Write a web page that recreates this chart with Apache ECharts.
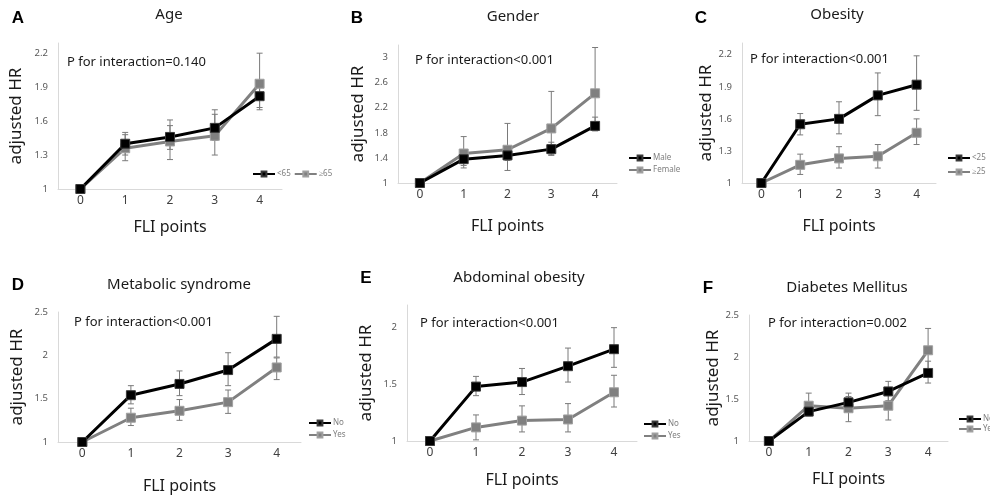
<!DOCTYPE html>
<html>
<head>
    <meta charset="utf-8">
    <title>FLI points – adjusted HR</title>
    <script src="https://cdn.jsdelivr.net/npm/echarts@6/dist/echarts.min.js"></script>
    <style>
        html, body { margin: 0; padding: 0; background: #ffffff; }
        #main { width: 990px; height: 498px; }
    </style>
</head>
<body>
<div id="main"></div>
<script>
    // x categories
    var fliPoints = ['0', '1', '2', '3', '4'];

    // A Age
    var ageLt65 = [1, 1.40, 1.46, 1.54, 1.82];
    var ageLt65Lo = [null, 1.30, 1.35, 1.43, 1.70];
    var ageLt65Hi = [null, 1.50, 1.56, 1.66, 1.95];
    var ageGe65 = [1, 1.36, 1.42, 1.47, 1.93];
    var ageGe65Lo = [null, 1.25, 1.26, 1.30, 1.72];
    var ageGe65Hi = [null, 1.48, 1.61, 1.70, 2.20];

    // B Gender
    var male = [1, 1.38, 1.44, 1.54, 1.91];
    var maleLo = [null, 1.28, 1.36, 1.45, 1.83];
    var maleHi = [null, 1.48, 1.52, 1.65, 2.05];
    var female = [1, 1.47, 1.53, 1.87, 2.43];
    var femaleLo = [null, 1.24, 1.20, 1.44, 1.86];
    var femaleHi = [null, 1.74, 1.95, 2.46, 3.16];

    // C Obesity
    var bmiLt25 = [1, 1.55, 1.60, 1.82, 1.92];
    var bmiLt25Lo = [null, 1.45, 1.46, 1.63, 1.68];
    var bmiLt25Hi = [null, 1.65, 1.76, 2.03, 2.19];
    var bmiGe25 = [1, 1.17, 1.23, 1.25, 1.47];
    var bmiGe25Lo = [null, 1.08, 1.14, 1.14, 1.36];
    var bmiGe25Hi = [null, 1.27, 1.34, 1.36, 1.60];

    // D Metabolic syndrome
    var metNo = [1, 1.54, 1.67, 1.83, 2.19];
    var metNoLo = [null, 1.44, 1.535, 1.65, 1.98];
    var metNoHi = [null, 1.65, 1.82, 2.03, 2.45];
    var metYes = [1, 1.28, 1.36, 1.46, 1.86];
    var metYesLo = [null, 1.19, 1.25, 1.33, 1.72];
    var metYesHi = [null, 1.39, 1.49, 1.60, 1.97];

    // E Abdominal obesity
    var abdNo = [1, 1.48, 1.52, 1.66, 1.81];
    var abdNoLo = [null, 1.40, 1.41, 1.52, 1.65];
    var abdNoHi = [null, 1.57, 1.64, 1.82, 2.00];
    var abdYes = [1, 1.12, 1.18, 1.19, 1.43];
    var abdYesLo = [null, 1.01, 1.08, 1.08, 1.30];
    var abdYesHi = [null, 1.23, 1.31, 1.33, 1.58];

    // F Diabetes Mellitus
    var dmNo = [1, 1.35, 1.46, 1.59, 1.81];
    var dmNoLo = [null, 1.30, 1.36, 1.48, 1.69];
    var dmNoHi = [null, 1.40, 1.57, 1.71, 1.95];
    var dmYes = [1, 1.42, 1.39, 1.42, 2.08];
    var dmYesLo = [null, 1.31, 1.23, 1.25, 1.80];
    var dmYesHi = [null, 1.57, 1.53, 1.60, 2.34];

    var panelLetters = ['A', 'B', 'C', 'D', 'E', 'F'];
    var panelTitles = ['Age', 'Gender', 'Obesity', 'Metabolic syndrome', 'Abdominal obesity', 'Diabetes Mellitus'];
    var pTexts = ['P for interaction=0.140', 'P for interaction<0.001', 'P for interaction<0.001',
        'P for interaction<0.001', 'P for interaction<0.001', 'P for interaction=0.002'];
    var yMin = [1, 1, 1, 1, 1, 1];
    var yMax = [2.29, 3.2, 2.31, 2.5, 2.2, 2.5];
    var yStep = [0.3, 0.4, 0.3, 0.5, 0.5, 0.5];
    // the top of the axis carries a tick label only where max falls on a step
    var yMaxLabel = [false, false, false, true, false, true];

    var groups = [
        [{name: '<65', v: ageLt65, lo: ageLt65Lo, hi: ageLt65Hi}, {name: '≥65', v: ageGe65, lo: ageGe65Lo, hi: ageGe65Hi}],
        [{name: 'Male', v: male, lo: maleLo, hi: maleHi}, {name: 'Female', v: female, lo: femaleLo, hi: femaleHi}],
        [{name: '<25', v: bmiLt25, lo: bmiLt25Lo, hi: bmiLt25Hi}, {name: '≥25', v: bmiGe25, lo: bmiGe25Lo, hi: bmiGe25Hi}],
        [{name: 'No', v: metNo, lo: metNoLo, hi: metNoHi}, {name: 'Yes', v: metYes, lo: metYesLo, hi: metYesHi}],
        [{name: 'No', v: abdNo, lo: abdNoLo, hi: abdNoHi}, {name: 'Yes', v: abdYes, lo: abdYesLo, hi: abdYesHi}],
        [{name: 'No', v: dmNo, lo: dmNoLo, hi: dmNoHi}, {name: 'Yes', v: dmYes, lo: dmYesLo, hi: dmYesHi}]
    ];

    // layout of each panel (pixels)
    var boxes = [
        {left: 58, top: 43, width: 224, height: 146},
        {left: 398, top: 45, width: 219, height: 138},
        {left: 742, top: 43, width: 194, height: 140},
        {left: 58, top: 312, width: 243, height: 130},
        {left: 407, top: 305, width: 230, height: 136},
        {left: 749, top: 315, width: 199, height: 126}
    ];
    var letterPos = [[18, 18], [357, 18], [701, 18], [18, 285], [366, 278], [708, 288]];
    var titlePos = [[169, 15], [513, 17], [837, 15], [179, 285], [519, 278], [847, 288]];
    var pPos = [[67, 62], [415, 60], [750, 59], [74, 322], [420, 323], [768, 323]];
    var yNameGap = [42, 40, 34, 41, 41, 35];
    var xNameGap = [38, 43, 43, 44, 39, 38];
    var legendCfg = [
        {left: 252, top: 170, orient: 'horizontal', itemGap: 3},
        {left: 628, top: 154, orient: 'vertical', itemGap: 4},
        {left: 947, top: 154, orient: 'vertical', itemGap: 6},
        {left: 308, top: 419, orient: 'vertical', itemGap: 4},
        {left: 643, top: 420, orient: 'vertical', itemGap: 4},
        {left: 958, top: 415, orient: 'vertical', itemGap: 2}
    ];

    var lineColors = ['#000000', '#808080'];
    var markerBorders = ['#3a3a3a', '#a0a0a0'];

    var chart = echarts.init(document.getElementById('main'), null, {renderer: 'canvas'});

    var grid = [], xAxis = [], yAxis = [], series = [], legend = [], graphic = [];

    boxes.forEach(function (b, i) {
        grid.push({left: b.left, top: b.top, width: b.width, height: b.height, containLabel: false});
        xAxis.push({
            type: 'category', gridIndex: i, data: fliPoints, boundaryGap: true,
            name: 'FLI points', nameLocation: 'middle', nameGap: xNameGap[i],
            nameTextStyle: {fontSize: 16, color: '#1a1a1a', fontFamily: 'Noto Sans', verticalAlign: 'middle'},
            axisLine: {lineStyle: {color: '#d9d9d9', width: 1}},
            axisTick: {show: false},
            axisLabel: {fontSize: 12, color: '#404040', margin: 6, fontFamily: 'Noto Sans'}
        });
        yAxis.push({
            type: 'value', gridIndex: i, min: yMin[i], max: yMax[i], interval: yStep[i],
            name: 'adjusted HR', nameLocation: 'middle', nameGap: yNameGap[i], nameRotate: 90,
            nameTextStyle: {fontSize: 17, color: '#1a1a1a', fontFamily: 'Noto Sans', verticalAlign: 'middle'},
            axisLine: {show: true, lineStyle: {color: '#d9d9d9', width: 1}},
            axisTick: {show: false},
            splitLine: {show: false},
            axisLabel: {fontSize: 9.5, color: '#595959', margin: 10, showMaxLabel: yMaxLabel[i], fontFamily: 'Noto Sans'}
        });

        var names = [];
        groups[i].forEach(function (g, k) {
            names.push(g.name);
            // error bars
            var bars = [];
            g.v.forEach(function (val, idx) {
                if (g.lo[idx] != null) bars.push([idx, g.lo[idx], g.hi[idx]]);
            });
            series.push({
                type: 'custom', xAxisIndex: i, yAxisIndex: i, silent: true, z: 1,
                data: bars,
                encode: {x: 0, y: [1, 2]},
                renderItem: function (params, api) {
                    var x = api.value(0);
                    var p1 = api.coord([x, api.value(1)]);
                    var p2 = api.coord([x, api.value(2)]);
                    var cap = 3;
                    var st = {stroke: '#7a7a7a', lineWidth: 1};
                    return {
                        type: 'group', children: [
                            {type: 'line', shape: {x1: p1[0], y1: p1[1], x2: p2[0], y2: p2[1]}, style: st},
                            {type: 'line', shape: {x1: p1[0] - cap, y1: p1[1], x2: p1[0] + cap, y2: p1[1]}, style: st},
                            {type: 'line', shape: {x1: p2[0] - cap, y1: p2[1], x2: p2[0] + cap, y2: p2[1]}, style: st}
                        ]
                    };
                }
            });
            series.push({
                name: g.name, type: 'line', xAxisIndex: i, yAxisIndex: i, z: 3 + (1 - k),
                data: g.v,
                symbol: 'rect', symbolSize: 9, showSymbol: true,
                lineStyle: {color: lineColors[k], width: 3},
                itemStyle: {color: lineColors[k], borderColor: markerBorders[k], borderWidth: 1},
                emphasis: {disabled: true},
                animation: false
            });
        });

        legend.push({
            data: names, left: legendCfg[i].left, top: legendCfg[i].top,
            orient: legendCfg[i].orient, itemGap: legendCfg[i].itemGap,
            itemWidth: 22, itemHeight: 6, padding: 0, selectedMode: false,
            textStyle: {fontSize: 8, color: '#7f7f7f', fontFamily: 'Noto Sans', padding: [0, 0, 0, -3]}
        });

        graphic.push({
            type: 'text', x: letterPos[i][0], y: letterPos[i][1],
            style: {text: panelLetters[i], fontSize: 17, fontWeight: 'bold', fontFamily: 'Liberation Sans',
                fill: '#000', align: 'center', verticalAlign: 'middle'}
        });
        graphic.push({
            type: 'text', x: titlePos[i][0], y: titlePos[i][1],
            style: {text: panelTitles[i], fontSize: 15, fontFamily: 'Noto Sans', fill: '#1a1a1a',
                align: 'center', verticalAlign: 'middle'}
        });
        graphic.push({
            type: 'text', x: pPos[i][0], y: pPos[i][1],
            style: {text: pTexts[i], fontSize: 13, fontFamily: 'Noto Sans', fill: '#1a1a1a',
                align: 'left', verticalAlign: 'middle'}
        });
    });

    var option = {
        backgroundColor: '#ffffff',
        animation: false,
        grid: grid,
        xAxis: xAxis,
        yAxis: yAxis,
        legend: legend,
        series: series,
        graphic: graphic
    };
    chart.setOption(option);
    window.onresize = function () {
        chart.resize();
    };
</script>
</body>
</html>
